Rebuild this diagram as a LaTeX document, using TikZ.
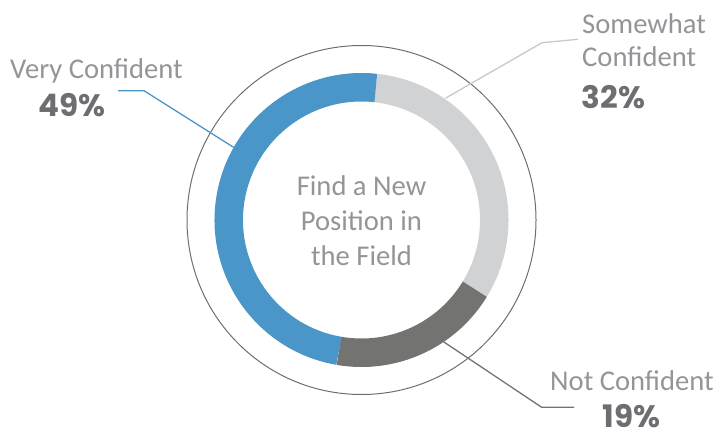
\documentclass[tikz,border=0pt]{standalone}
\usepackage{fontspec}
\usetikzlibrary{calc}
\setmainfont{Carlito}
\newfontfamily\pctfont{Poppins}
\definecolor{cblue}{HTML}{4A96C8}
\definecolor{clight}{HTML}{D1D2D4}
\definecolor{cdark}{HTML}{737471}
\definecolor{ctext}{HTML}{939598}
\definecolor{cpct}{HTML}{6D6E71}
\definecolor{cring}{HTML}{6D6E71}
\definecolor{cleadlight}{HTML}{C8C9CB}
\tikzset{
  lbl/.style={anchor=base west, inner sep=0pt, text=ctext, font=\fontsize{28.6}{33}\selectfont},
  pct/.style={anchor=base west, inner sep=0pt, text=cpct, font=\pctfont\bfseries\fontsize{31}{33}\selectfont},
  seg/.style={line width=28.5pt},
  leader/.style={line width=1.3pt},
}
\begin{document}
\begin{tikzpicture}[x=1pt,y=1pt]
\useasboundingbox (0,0) rectangle (719,429);
\coordinate (c) at (361.5,209);
% outer thin circle
\draw[cring, line width=1pt] (c) circle[radius=174.5];
% leader end points
\coordinate (blueEnd) at ($(c)+(150.4:147)$);
\coordinate (greyEnd) at ($(c)+(55.4:148)$);
\coordinate (darkEnd) at ($(c)+(-56:147)$);
\coordinate (blueK) at (144,338.3);
\coordinate (blueF) at (118,338.3);
\coordinate (greyK) at (542,386.3);
\coordinate (greyF) at (578,389.7);
\coordinate (darkK) at (541.7,21.7);
\coordinate (darkF) at (574,21.7);
\draw[leader, cblue] (blueEnd) -- (blueK) -- (blueF);
\draw[leader, cleadlight] (greyEnd) -- (greyK) -- (greyF);
\draw[leader, cdark] (darkEnd) -- (darkK) -- (darkF);
% ring segments
\draw[seg, clight] ($(c)+(83.8:132.75)$) arc[start angle=83.8, end angle=-31.4, radius=132.75];
\draw[seg, cdark] ($(c)+(-31.4:132.75)$) arc[start angle=-31.4, end angle=-99.8, radius=132.75];
\draw[seg, cblue] ($(c)+(-99.8:132.75)$) arc[start angle=-99.8, end angle=-276.2, radius=132.75];
% center text
\node[align=center, inner sep=0pt, text=ctext, font=\fontsize{28.6}{35}\selectfont] (center) at (361.5,208) {Find a New\\Position in\\the Field};
% labels
\node[lbl] (veryL) at (10,350.7) {Very Confident};
\node[pct] (veryP) at (38.5,312.3) {49\%};
\node[lbl] (someL1) at (582,395.7) {Somewhat};
\node[lbl] (someL2) at (582,362) {Confident};
\node[pct] (someP) at (581.5,320.7) {32\%};
\node[lbl] (notL) at (550,39) {Not Confident};
\node[pct] (notP) at (602.5,2) {19\%};
\end{tikzpicture}
\end{document}
